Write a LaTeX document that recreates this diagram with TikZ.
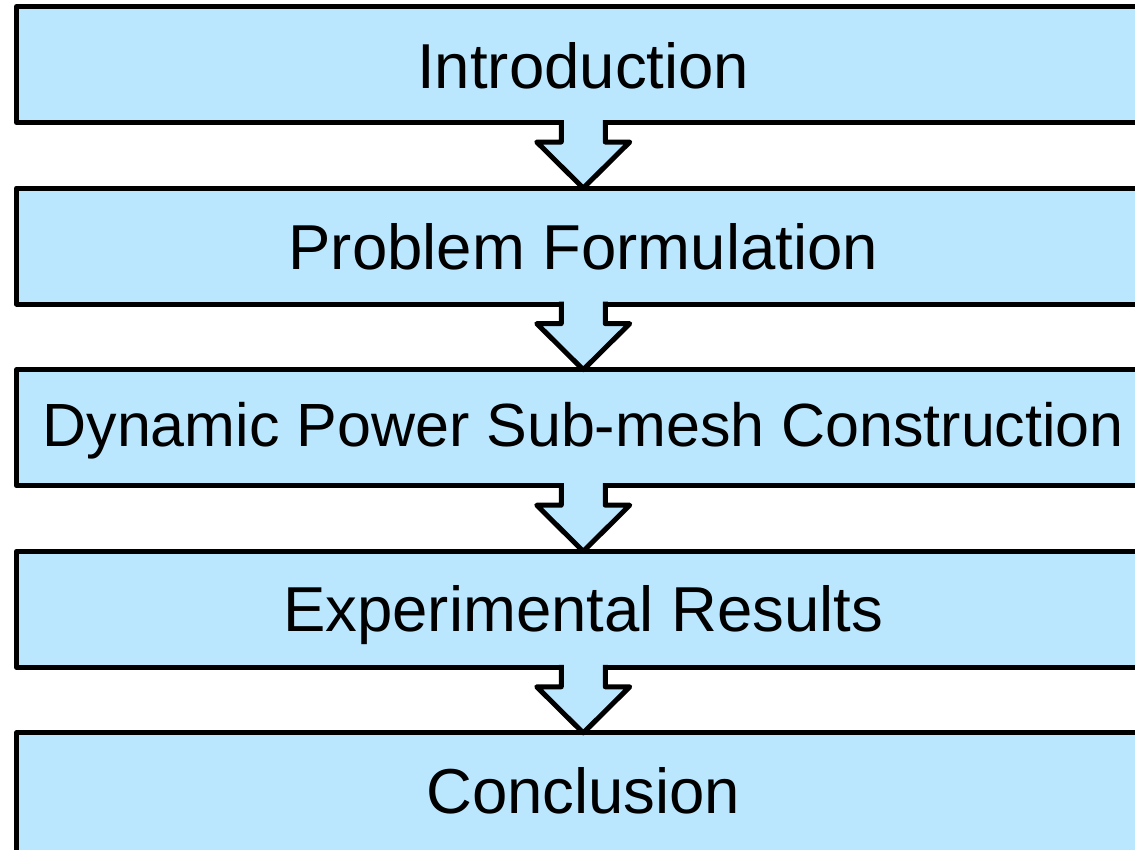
\documentclass[tikz,border=0pt]{standalone}
\usepackage{fontspec}
\setmainfont{Liberation Sans}
\usetikzlibrary{calc}
\definecolor{boxblue}{RGB}{187,231,254}
\tikzset{
  secbox/.style={draw=black, fill=boxblue, line width=5pt, line join=round,
    inner sep=0pt, outer sep=0pt, minimum width=1133.5pt, minimum height=116pt,
    text depth=0pt, font=\fontsize{63.5}{76}\selectfont},
  blockarrow/.style={draw=black, line width=5pt, line join=round}
}
\newcommand{\blockarr}[2]{%
  \fill[boxblue] ([xshift=-22pt,yshift=2.5pt]#1.south) -- ([xshift=-22pt,yshift=-19.5pt]#1.south)
    -- ([xshift=-46.5pt,yshift=-19.5pt]#1.south) -- (#2.north)
    -- ([xshift=46.5pt,yshift=-19.5pt]#1.south) -- ([xshift=22pt,yshift=-19.5pt]#1.south)
    -- ([xshift=22pt,yshift=2.5pt]#1.south) -- cycle;
  \draw[blockarrow] ([xshift=-22pt,yshift=2.5pt]#1.south) -- ([xshift=-22pt,yshift=-19.5pt]#1.south)
    -- ([xshift=-46.5pt,yshift=-19.5pt]#1.south) -- (#2.north)
    -- ([xshift=46.5pt,yshift=-19.5pt]#1.south) -- ([xshift=22pt,yshift=-19.5pt]#1.south)
    -- ([xshift=22pt,yshift=2.5pt]#1.south);
}
\begin{document}
\begin{tikzpicture}[x=1pt,y=-1pt]
\useasboundingbox (0,0) rectangle (1135,849);
\clip (0,0) rectangle (1135,849);
\node[secbox, text height=47.6pt] (b1) at (583.25,64.5) {Introduction};
\node[secbox, text height=46.4pt] (b2) at (583.25,246.1) {Problem Formulation};
\node[secbox, text height=38pt, font=\fontsize{61}{73}\selectfont] (b3) at (583.25,427.7) {Dynamic Power Sub-mesh Construction};
\node[secbox, text height=43.4pt] (b4) at (583.25,609.3) {Experimental Results};
\node[secbox, text height=36.2pt, minimum height=124pt] (b5) at (583.25,794.9) {Conclusion};
\blockarr{b1}{b2}
\blockarr{b2}{b3}
\blockarr{b3}{b4}
\blockarr{b4}{b5}
\end{tikzpicture}
\end{document}
